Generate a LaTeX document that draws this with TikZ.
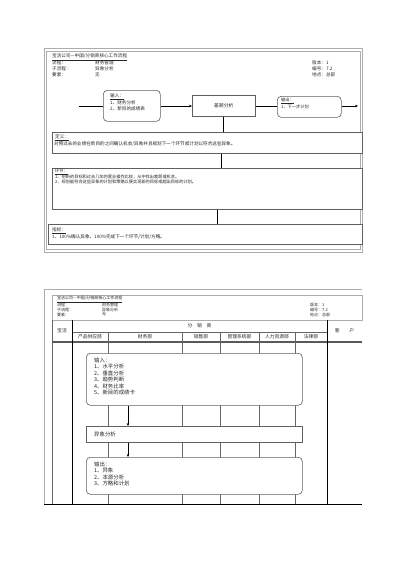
\documentclass[tikz,border=0pt]{standalone}
\usepackage{fontspec}
\setmainfont{Noto Sans CJK SC}
\usetikzlibrary{arrows.meta}
\tikzset{
  frame/.style={draw=gray!65, line width=0.7pt},
  rbox/.style={draw=gray!75!black, rounded corners=4pt, fill=white, line width=0.6pt, anchor=north west, inner sep=0pt},
  sbox/.style={draw=gray!75!black, fill=white, line width=0.6pt, anchor=north west, inner sep=0pt},
  conn/.style={line width=1pt},
  arr/.style={line width=0.8pt, -{Stealth[length=3pt,width=2.6pt]}},
  txt/.style={anchor=west, inner sep=0pt, font=\fontsize{4.6}{5}\selectfont, text=black!85},
  htxt/.style={anchor=west, inner sep=0pt, font=\fontsize{4}{4.5}\selectfont, text=black!85},
  stxt/.style={anchor=west, inner sep=0pt, font=\fontsize{4.2}{5}\selectfont, text=black!85},
  btxt/.style={anchor=west, inner sep=0pt, font=\fontsize{5.4}{6}\selectfont, text=black!85},
  ctxt/.style={inner sep=0pt, font=\fontsize{4.8}{5}\selectfont, text=black!85},
  col/.style={draw=gray!80!black, line width=0.6pt},
  colk/.style={draw=black, line width=0.7pt}
}
\begin{document}
\begin{tikzpicture}[x=1pt,y=-1pt]
\useasboundingbox (0,0) rectangle (400,566);

% ---------------- top panel ----------------
\draw[frame] (44,48) rectangle (362,252);
\draw[frame] (46.5,51) rectangle (360,249.5);

\node[txt] (t1) at (52,57) {\underline{宝洁公司—中国/分销商核心工作流程}};
\node[txt] (t2) at (52,63) {流程：};
\node[txt] (t3) at (52,69) {子流程：};
\node[txt] (t4) at (52,75) {要素：};
\node[txt] (t5) at (95,63) {财务管理};
\node[txt] (t6) at (95,69) {异象分析};
\node[txt] (t7) at (95,75) {无};
\node[txt] (t8) at (312,63) {版本：1};
\node[txt] (t9) at (312,69) {编号：7.2};
\node[txt] (t10) at (312,75) {地点：总部};

\coordinate (lstart) at (79,106);
\coordinate (rend) at (358,106);
\node[rbox, minimum width=57, minimum height=31] (tin) at (103,90) {};
\node[sbox, minimum width=63, minimum height=21] (tmid) at (192,95) {};
\node[ctxt] at (tmid.center) {差距分析};
\node[rbox, minimum width=64, minimum height=21] (tout) at (277,96) {};

\node[txt] (tin0) at (110,97) {\underline{输入：}};
\node[txt] (tin1) at (110,102.5) {1、财务分析};
\node[txt] (tin2) at (110,108.5) {2、新目的成绩表};
\node[stxt] (tout0) at (281,101) {\underline{输出：}};
\node[stxt] (tout1) at (281,107) {1、下一步计划};

\draw[conn] (lstart) -- (tin.west |- lstart);
\draw[arr] (tin.east |- lstart) -- (tmid.west |- lstart);
\draw[conn] (tmid.east |- lstart) -- (tout.west |- lstart);
\draw[arr] (tout.east |- lstart) -- (rend);

\node[sbox, minimum width=310, minimum height=21] (tdef) at (52,132) {};
\node[txt] (def0) at (55,138) {\underline{定义：}};
\node[txt] (def1) at (54,144) {对照过去的业绩在新目的之间确认机会/异象并且规划下一个环节或计划以符合这些异象。};

\node[sbox, minimum width=310, minimum height=41] (tstep) at (52,168) {};
\node[stxt] (st0) at (55,172) {\underline{环节：}};
\node[stxt] (st1) at (55,177) {1、把新的目标和过去几年的营业操作比较，从中找出差距或机会。};
\node[stxt] (st2) at (55,181.5) {2、规划能符合这些异象的计划和策略以便实现新的目标或超出目标的计划。};

\node[sbox, minimum width=314, minimum height=20] (tkpi) at (48,224) {};
\node[txt] (k0) at (52,231) {\underline{指标：}};
\node[txt] (k1) at (52,237) {1、100\%确认异象，100\%完成下一个环节/计划/方略。};

\draw[conn] (tmid.south -| 223,0) -- (tdef.north -| 223,0);
\draw[conn] (tdef.south -| 221,0) -- (tstep.north -| 221,0);
\draw[conn] (tstep.south -| 217,0) -- (tkpi.north -| 217,0);

% ---------------- bottom panel ----------------
\draw[frame] (44,289) -- (362,289);
\draw[frame] (44,289) -- (44,504);
\draw[frame] (52,295) rectangle (362,320);

\node[htxt] (b1) at (57,299.5) {\underline{宝洁公司—中国/分销商核心工作流程}};
\node[htxt] (b2) at (57,304.5) {流程：};
\node[htxt] (b3) at (57,309.5) {子流程：};
\node[htxt] (b4) at (57,314.5) {要素：};
\node[htxt] (b5) at (102,304.5) {财务管理};
\node[htxt] (b6) at (102,309.5) {异象分析};
\node[htxt] (b7) at (102,314.5) {无};
\node[htxt] (b8) at (310,304.5) {版本：1};
\node[htxt] (b9) at (310,309.5) {编号：7.2};
\node[htxt] (b10) at (310,314.5) {地点：总部};

% table
\draw[col] (52,320) -- (52,504);
\draw[col] (72,332) -- (327,332);
\draw[draw=gray!70!black, line width=1.2pt] (52,342) -- (362,342);
\foreach \cx in {108,182,220,259,295} { \draw[col] (\cx,332) -- (\cx,504); }
\draw[colk] (72,320) -- (72,504);
\draw[colk] (327,320) -- (327,504);
\draw[draw=black, line width=0.9pt] (44,504) -- (362,504);

\node[ctxt] (h0) at (62,331) {宝洁};
\node[ctxt] (h1) at (199.5,326) {分\quad 销\quad 商};
\node[ctxt] (h2) at (344.5,331) {客\qquad 户};
\node[ctxt] (h3) at (90,337) {产品供应部};
\node[ctxt] (h4) at (145,337) {财务部};
\node[ctxt] (h5) at (201,337) {销售部};
\node[ctxt] (h6) at (239.5,337) {管理系统部};
\node[ctxt] (h7) at (277,337) {人力资源部};
\node[ctxt] (h8) at (311,337) {法律部};

\coordinate (ax) at (128,0);
\node[rbox, minimum width=216, minimum height=52] (bin) at (86,353) {};
\node[sbox, minimum width=216, minimum height=16] (ban) at (86,426) {};
\node[rbox, minimum width=216, minimum height=37] (bout) at (86,457) {};

\node[btxt] (bi0) at (94,360) {输入：};
\node[btxt] (bi1) at (94,366.5) {1、水平分析};
\node[btxt] (bi2) at (94,373) {2、垂直分析};
\node[btxt] (bi3) at (94,379.5) {3、趋势判断};
\node[btxt] (bi4) at (94,386) {4、财务比率};
\node[btxt] (bi5) at (94,392.5) {5、新目的成绩卡};

\node[btxt] (ba0) at (94,434) {异象分析};

\node[btxt] (bo0) at (94,464) {输出：};
\node[btxt] (bo1) at (94,470.5) {1、异象};
\node[btxt] (bo2) at (94,477) {2、本源分析};
\node[btxt] (bo3) at (94,483.5) {3、方略和计划};

\draw[arr] (bin.south -| ax) -- (ban.north -| ax);
\draw[arr] (ban.south -| ax) -- (bout.north -| ax);
\end{tikzpicture}
\end{document}
